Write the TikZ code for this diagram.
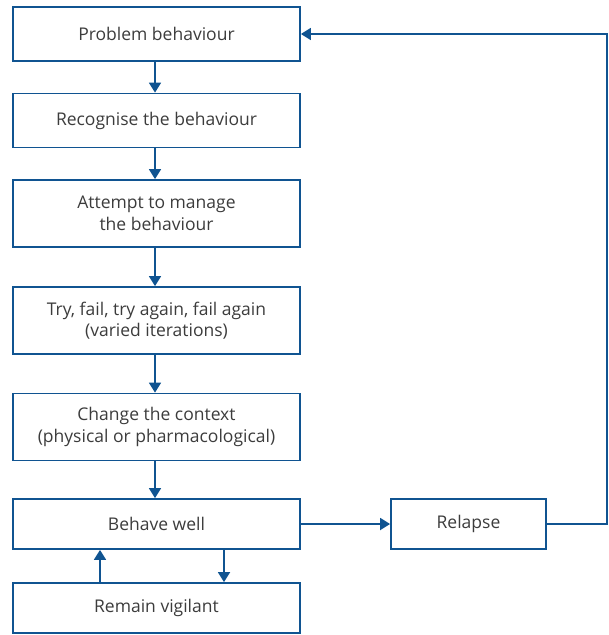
\documentclass[tikz,border=0pt]{standalone}
\usepackage{fontspec}
\setmainfont{Open Sans}
\usetikzlibrary{arrows.meta}
\definecolor{boxblue}{RGB}{16,84,145}
\definecolor{txt}{RGB}{60,60,60}
\begin{document}
\begin{tikzpicture}[x=1pt,y=-1pt,
  box/.style={draw=boxblue,line width=1.8pt,minimum width=287pt,align=center,text=txt,font=\fontsize{17.5}{21.5}\selectfont,inner sep=0pt},
  conn/.style={draw=boxblue,line width=1.8pt,-{Triangle[length=10pt,width=12pt]}}]
\useasboundingbox (0,0) rectangle (609,635);
\node[box,minimum height=54pt] (p) at (156.5,34) {Problem behaviour};
\node[box,minimum height=54pt] (r) at (156.5,120.5) {Recognise the behaviour};
\node[box,minimum height=67pt] (a) at (156.5,213.5) {Attempt to manage\\the behaviour};
\node[box,minimum height=67pt] (t) at (156.5,320.5) {Try, fail, try again, fail again\\(varied iterations)};
\node[box,minimum height=67pt] (c) at (156.5,427) {Change the context\\(physical or pharmacological)};
\node[box,minimum height=50pt] (b) at (156.5,524) {Behave well};
\node[box,minimum height=50pt] (v) at (156.5,608) {Remain vigilant};
\node[box,minimum height=50pt,minimum width=155pt] (l) at (468.5,524) {Relapse};
\coordinate (c1) at (607,524);
\coordinate (c2) at (607,34);
\draw[conn] (p.south -| 155,0) -- (r.north -| 155,0);
\draw[conn] (r.south -| 155,0) -- (a.north -| 155,0);
\draw[conn] (a.south -| 155,0) -- (t.north -| 155,0);
\draw[conn] (t.south -| 155,0) -- (c.north -| 155,0);
\draw[conn] (c.south -| 155,0) -- (b.north -| 155,0);
\draw[conn] (v.north -| 100,0) -- (b.south -| 100,0);
\draw[conn] (b.south -| 224,0) -- (v.north -| 224,0);
\draw[conn] (b.east) -- (l.west);
\draw[conn] (l.east) -- (c1) -- (c2) -- (p.east);
\end{tikzpicture}
\end{document}
